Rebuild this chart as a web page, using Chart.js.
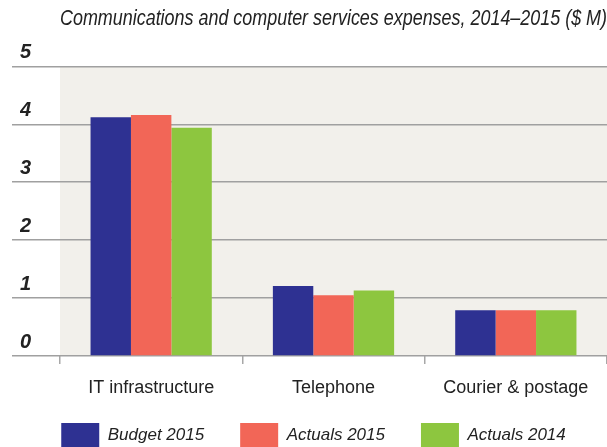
<!DOCTYPE html>
<html>
<head>
<meta charset="utf-8">
<script src="https://cdn.jsdelivr.net/npm/chart.js@4"></script>
<style>
  body { margin: 0; background: #fff; }
</style>
</head>
<body>
<canvas id="myChart" width="607" height="447"></canvas>
<script>
var categories = ['IT infrastructure', 'Telephone', 'Courier & postage'];
var budget2015 = [4.12, 1.21, 0.79];
var actuals2015 = [4.16, 1.05, 0.79];
var actuals2014 = [3.94, 1.13, 0.79];
var yTicks = [0, 1, 2, 3, 4, 5];

var FONT = "'Liberation Sans', Arial, sans-serif";

// light beige behind the plot area
var plotBg = {
    id: 'plotBg',
    beforeDraw: function(chart) {
        var a = chart.chartArea, c = chart.ctx;
        c.save();
        c.fillStyle = '#f2f0eb';
        c.fillRect(a.left, a.top, a.right - a.left, a.bottom - a.top);
        c.restore();
    },
    // let the x labels draw below the (shortened) axis box
    afterLayout: function(chart) {
        chart.scales.x.bottom = chart.height;
    }
};

var ctx = document.getElementById('myChart').getContext('2d');
var myChart = new Chart(ctx, {
    type: 'bar',
    plugins: [plotBg],
    data: {
        labels: categories,
        datasets: [{
            label: 'Budget 2015',
            data: budget2015,
            backgroundColor: '#2e3192'
        }, {
            label: 'Actuals 2015',
            data: actuals2015,
            backgroundColor: '#f26657'
        }, {
            label: 'Actuals 2014',
            data: actuals2014,
            backgroundColor: '#8dc63f'
        }]
    },
    options: {
        responsive: false,
        animation: false,
        datasets: {
            bar: {
                barPercentage: 1,
                categoryPercentage: 0.665
            }
        },
        layout: {
            padding: { left: 20, right: 0, top: 0, bottom: -10 }
        },
        plugins: {
            tooltip: { enabled: false },
            title: {
                display: true,
                fullSize: false,
                text: 'Communications and computer services expenses, 2014\u20132015 ($ M)',
                color: '#222',
                font: { family: FONT, size: 22, style: 'italic', weight: 'normal' },
                padding: { top: 6, bottom: 34 }
            },
            legend: {
                position: 'bottom',
                labels: {
                    boxWidth: 38,
                    boxHeight: 24,
                    padding: 36,
                    color: '#222',
                    font: { family: FONT, size: 17, style: 'italic' }
                }
            }
        },
        scales: {
            x: {
                afterFit: function(scale) {
                    scale.height = 31;
                },
                grid: {
                    display: true,
                    drawOnChartArea: false,
                    drawTicks: true,
                    tickLength: 8,
                    color: '#a8a8a8',
                    lineWidth: 1.5
                },
                border: { display: false },
                ticks: {
                    color: '#222',
                    padding: 13,
                    maxRotation: 0,
                    minRotation: 0,
                    font: { family: FONT, size: 18 }
                }
            },
            y: {
                min: 0,
                max: 5,
                afterBuildTicks: function(scale) {
                    scale.ticks = yTicks.map(function(v) { return { value: v }; });
                },
                afterFit: function(scale) {
                    scale.width = 40;
                },
                grid: {
                    color: '#a0a0a0',
                    lineWidth: 1.6,
                    tickLength: 48
                },
                border: { display: false },
                ticks: {
                    color: '#222',
                    crossAlign: 'far',
                    padding: 0,
                    labelOffset: -14,
                    font: { family: FONT, size: 20, style: 'italic', weight: 'bold' }
                }
            }
        }
    }
});
</script>
</body>
</html>
